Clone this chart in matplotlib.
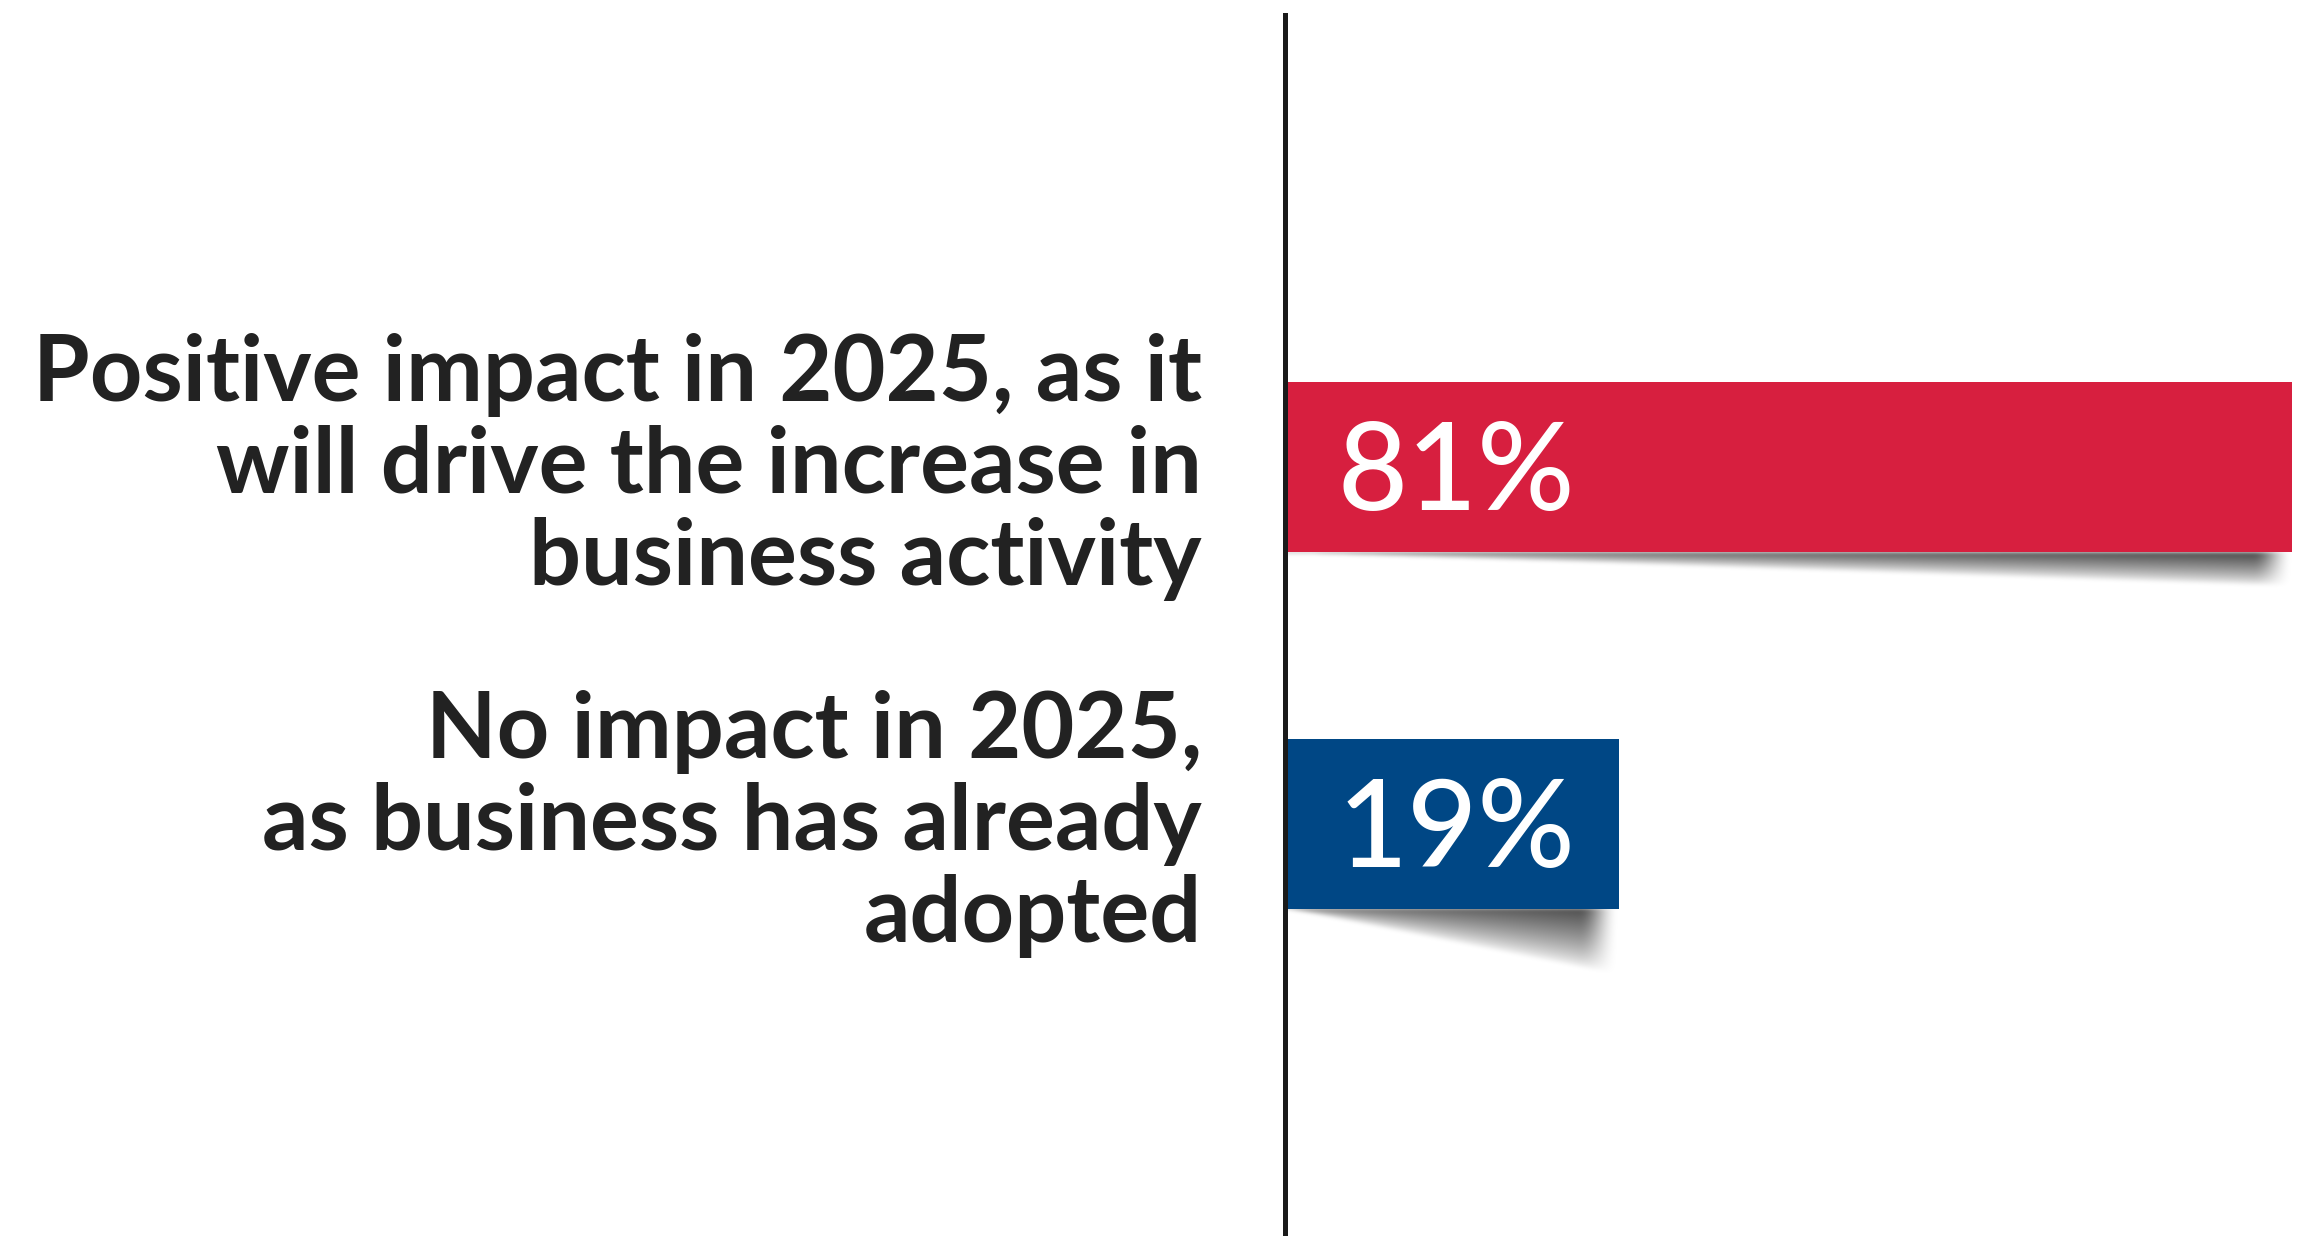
import numpy as np
import matplotlib
matplotlib.use("Agg")
import matplotlib.pyplot as plt
import matplotlib.transforms as mtransforms

# Survey answers and their shares (%)
categories = [
    "Positive impact in 2025, as it\nwill drive the increase in\nbusiness activity",
    "No impact in 2025,\nas business has already\nadopted",
]
shares = [81, 19]
value_labels = ["81%", "19%"]

bar_colors = ["#D71F3F", "#004785"]
text_color = "#222222"
base = -11.7          # where bars start on the value axis (at the spine)


def gaussian_blur(img, sigma):
    r = int(3 * sigma)
    k = np.exp(-0.5 * (np.arange(-r, r + 1) / sigma) ** 2)
    k /= k.sum()
    out = np.apply_along_axis(lambda m: np.convolve(m, k, mode="same"), 0, img)
    out = np.apply_along_axis(lambda m: np.convolve(m, k, mode="same"), 1, out)
    return out


def draw_shadow(ax, y_bottom, x0, x1, depth_px, strength=0.72, fade_px=40):
    # curled-page shadow: a wedge under the bar, deepest at the right end
    to_px = ax.transData
    (px0, py0) = to_px.transform((x0, y_bottom))
    (px1, _) = to_px.transform((x1, y_bottom))
    w = int(px1 - px0)
    pad = 12
    h = int(depth_px) + 2 * pad
    xx, yy = np.meshgrid(np.arange(w + pad), np.arange(h))
    u = np.clip(xx / w, 0, 1)
    d = np.maximum(depth_px * u, 1e-3)
    t = np.clip(1 - yy / d, 0, 1)
    alpha = strength * t ** 0.75 * (0.7 + 0.3 * u)
    right = np.clip((w - xx) / fade_px, 0, 1)
    alpha *= right * right * (3 - 2 * right)
    alpha = gaussian_blur(alpha, 2)
    rgba = np.zeros((h, w + pad, 4))
    rgba[..., 3] = np.clip(alpha, 0, 1)
    inv = ax.transData.inverted()
    xa, ya_top = inv.transform((px0, py0))
    xb, ya_bot = inv.transform((px0 + w + pad, py0 - h))
    ax.imshow(rgba, extent=(xa, xb, ya_bot, ya_top), origin="upper",
              aspect="auto", interpolation="bilinear", zorder=2)


fig = plt.figure(figsize=(23.04, 12.36), dpi=100)
fig.patch.set_facecolor("white")
ax = fig.add_axes([1285 / 2304, 0, 1 - 1285 / 2304, 1 - 15 / 1236])
ax.set_xlim(base, 82.1)
ax.set_ylim(2.154, -1.266)

ypos = np.arange(len(shares))
bar_h = 0.476
widths = [s - base for s in shares]
ax.barh(ypos, widths, left=base, height=bar_h, color=bar_colors, zorder=3)

for y, s, depth in zip(ypos, shares, [34, 66]):
    draw_shadow(ax, y + bar_h / 2, base, s, depth)

ax.set_xlim(base, 82.1)
ax.set_ylim(2.154, -1.266)

for y, lab in zip(ypos, value_labels):
    ax.annotate(lab, (base, y), xytext=(38, -31), textcoords="offset points",
                ha="left", va="baseline", color="white", fontsize=87,
                family="Lato", fontweight="medium", zorder=4)

trans = mtransforms.blended_transform_factory(fig.transFigure, ax.transData)
for y, cat in zip(ypos, categories):
    ax.text(1202 / 2304, y, cat, transform=trans, ha="right", va="center",
            multialignment="right", fontsize=66, family="Lato",
            fontweight="bold", color=text_color, linespacing=1.12,
            clip_on=False)

for side in ["top", "right", "bottom"]:
    ax.spines[side].set_visible(False)
ax.spines["left"].set_linewidth(3.6)
ax.spines["left"].set_color("#1a1a1a")
ax.spines["left"].set_zorder(5)
ax.set_xticks([])
ax.set_yticks([])
ax.patch.set_alpha(0)

fig.savefig("out.png", dpi=100, facecolor="white")
